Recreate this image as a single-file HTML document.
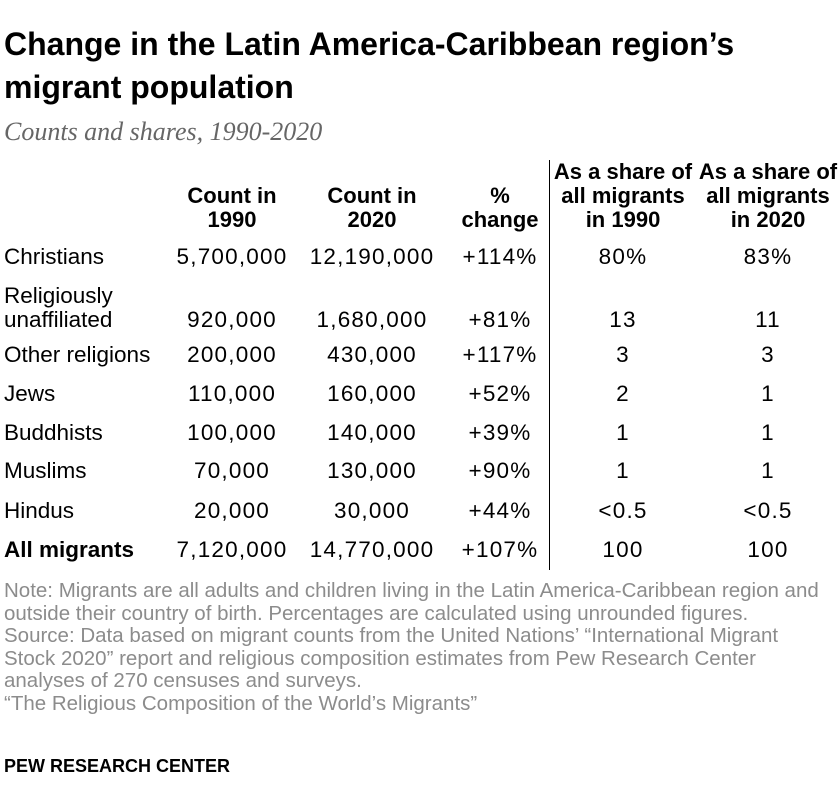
<!DOCTYPE html>
<html><head><meta charset="utf-8"><style>
body{margin:0;width:840px;height:812px;background:#fff;font-family:"Liberation Sans",sans-serif;color:#000;position:relative;overflow:hidden}
.a{position:absolute;white-space:nowrap;line-height:24px}
.t{font-size:22.5px}
.num{letter-spacing:1.2px}
.c{transform:translateX(-50%);text-align:center}
.h{font-weight:bold;font-size:22px}
.n{font-size:20.5px;color:#8c8c8c;left:4px;line-height:22.5px}
</style></head><body>
<div class="a" style="left:4px;top:23px;font-size:32px;font-weight:bold;line-height:43px">Change in the Latin America-Caribbean region’s<br>migrant population</div>
<div class="a" style="left:4px;top:120px;font-family:'Liberation Serif',serif;font-style:italic;font-size:26px;color:#666">Counts and shares, 1990-2020</div>
<div style="position:absolute;left:549px;top:160px;width:1px;height:410px;background:#000"></div>
<div id="tbl"></div>
<div class="a n" style="top:580px">Note: Migrants are all adults and children living in the Latin America-Caribbean region and<br>outside their country of birth. Percentages are calculated using unrounded figures.<br>Source: Data based on migrant counts from the United Nations’ “International Migrant<br>Stock 2020” report and religious composition estimates from Pew Research Center<br>analyses of 270 censuses and surveys.<br>“The Religious Composition of the World’s Migrants”</div>
<div class="a" style="left:4px;top:754px;font-size:18px;font-weight:bold">PEW RESEARCH CENTER</div>
<script>
const groups=["Christians","Religiously<br>unaffiliated","Other religions","Jews","Buddhists","Muslims","Hindus","All migrants"];
const count1990=["5,700,000","920,000","200,000","110,000","100,000","70,000","20,000","7,120,000"];
const count2020=["12,190,000","1,680,000","430,000","160,000","140,000","130,000","30,000","14,770,000"];
const pctChange=["+114%","+81%","+117%","+52%","+39%","+90%","+44%","+107%"];
const share1990=["80%","13","3","2","1","1","<0.5","100"];
const share2020=["83%","11","3","1","1","1","<0.5","100"];
const headers=["Count in<br>1990","Count in<br>2020","%<br>change","As a share of<br>all migrants<br>in 1990","As a share of<br>all migrants<br>in 2020"];
const tbl=document.getElementById('tbl');
const cx=[232,372,500,623,768];
const rowY=[245,308,343,382,421,459,499,538];
function add(html,cls,style,name){const d=document.createElement('div');d.className='a '+cls;d.innerHTML=html;d.style.cssText=style;


tbl.appendChild(d);}
headers.forEach((h,i)=>{const lines=h.split('<br>').length;add(h,'h c','left:'+cx[i]+'px;top:'+(230-lines*24+2)+'px','column-header');});
const cols=[count1990,count2020,pctChange,share1990,share2020];
groups.forEach((g,r)=>{
 const y=rowY[r];const bold=r===groups.length-1?'font-weight:bold;':'';
 const gy=g.includes('<br>')?y-24:y;
 add(g,'t','left:4px;top:'+gy+'px;'+bold,'row-label');
 cols.forEach((col,i)=>add(col[r].replace('<','&lt;'),'t c num','left:'+cx[i]+'px;top:'+y+'px','table-cell'));
});
</script>
</body></html>
